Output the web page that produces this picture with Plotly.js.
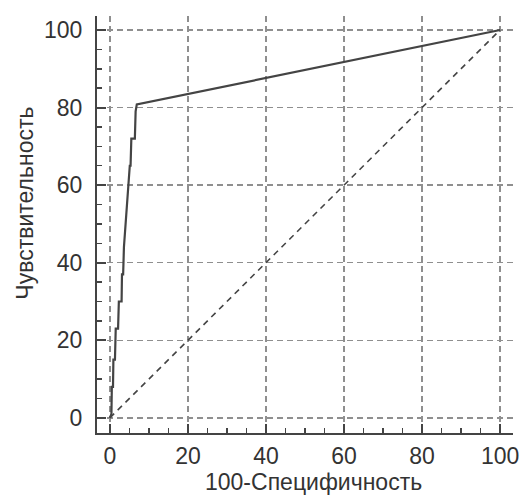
<!DOCTYPE html>
<html>
<head>
<meta charset="utf-8">
<script src="https://cdn.plot.ly/plotly-3.0.1.min.js"></script>
<style>html,body{margin:0;padding:0;background:#fff;}#chart{width:524px;height:503px;}</style>
</head>
<body>
<div id="chart"></div>
<script>
// ROC curve points: 100-Specificity (x) vs Sensitivity (y)
const rocX = [0, 0.4, 0.5, 0.8, 0.9, 1.3, 1.5, 2.1, 2.3, 3.0, 3.1, 3.4, 3.6, 4.1, 4.5, 4.8, 5.1, 5.3, 5.5, 6.4, 6.6, 6.9, 100];
const rocY = [0, 1, 8, 8, 15, 15, 23, 23, 30, 30, 37, 37, 44, 51, 58, 60, 65, 65, 72, 72, 79, 80.8, 100];
const diagX = [0, 100];
const diagY = [0, 100];
const tickVals = [0, 20, 40, 60, 80, 100];
const tickText = ["0", "20", "40", "60", "80", "100"];
const xTitle = "100-Специфичность";
const yTitle = "Чувствительность";

const font = "Liberation Sans, Arial, sans-serif";
const axisCommon = {
  tickmode: "array", tickvals: tickVals, ticktext: tickText,
  ticks: "inside", ticklen: 9, tickwidth: 2, tickcolor: "#444",
  showline: true, linecolor: "#444", linewidth: 2,
  showgrid: true, gridcolor: "#8f8f8f", gridwidth: 1.4, griddash: "6px,4px",
  zeroline: false, mirror: false,
  tickfont: {family: font, size: 23, color: "#333"},
  minor: {dtick: 5, ticks: "inside", ticklen: 5, tickwidth: 1.5, tickcolor: "#444", showgrid: false},
  fixedrange: true
};
const layout = {
  width: 524, height: 503,
  margin: {l: 97, r: 11, t: 16, b: 70},
  paper_bgcolor: "#fff", plot_bgcolor: "#fff",
  showlegend: false,
  xaxis: Object.assign({}, axisCommon, {range: [-3.3, 103.3], ticklabelstandoff: 1}),
  yaxis: Object.assign({}, axisCommon, {range: [-3.9, 103.6], ticklabelstandoff: 8}),
  annotations: [
    {text: xTitle, xref: "paper", yref: "paper", x: 0.52, y: 0, yshift: -49, xanchor: "center", yanchor: "middle",
     showarrow: false, font: {family: font, size: 23, color: "#333"}},
    {text: yTitle, xref: "paper", yref: "paper", x: 0, y: 0.55, xshift: -72, xanchor: "center", yanchor: "middle",
     textangle: -90, showarrow: false, font: {family: font, size: 23, color: "#333"}}
  ]
};
const data = [
  {x: diagX, y: diagY, mode: "lines", line: {color: "#444", width: 1.6, dash: "6px,5px"}, hoverinfo: "skip"},
  {x: rocX, y: rocY, mode: "lines", line: {color: "#444", width: 2.2}, hoverinfo: "skip"}
];
Plotly.newPlot("chart", data, layout, {displayModeBar: false, staticPlot: true});
</script>
</body>
</html>
